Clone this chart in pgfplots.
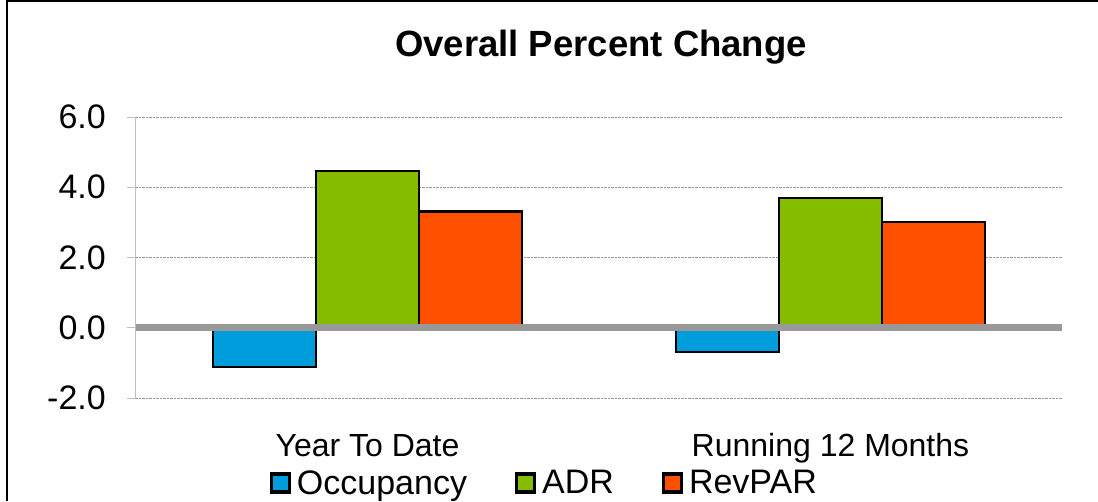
\documentclass[border=0pt]{standalone}
\usepackage{fontspec}
\setmainfont{Liberation Sans}
\usepackage{pgfplots}
\pgfplotsset{compat=1.18}
\definecolor{occ}{RGB}{0,157,220}
\definecolor{adr}{RGB}{133,188,0}
\definecolor{rev}{RGB}{255,80,0}
\definecolor{zeroc}{RGB}{153,153,153}
\definecolor{axc}{RGB}{191,191,191}
\definecolor{gridc}{RGB}{150,150,150}
\pgfplotsset{mylegend/.style={legend image code/.code={%
  \fill[black] (-1pt,-9.5pt) rectangle (18pt,9.5pt);
  \path[##1,draw=none] (1.2pt,-7.3pt) rectangle (15.8pt,7.3pt);
  \path[draw=none,fill=none] (0pt,0pt) -- (23pt,0pt);}}}
\pgfplotstableread{
x occ adr rev
0 -1.11 4.46 3.31
1 -0.68 3.69 3.00
}\datatable
\begin{document}
\begin{tikzpicture}
\path[use as bounding box] (0,0) rectangle (1098pt,501pt);
\draw[line width=2pt] (7pt,0pt) -- (7pt,500pt) -- (1098pt,500pt);
\begin{axis}[
  at={(136pt,103pt)}, anchor=south west,
  width=926pt, height=281pt, scale only axis,
  ybar=0pt, bar width=103pt,
  xmin=-0.5, xmax=1.5, ymin=-2, ymax=6,
  axis lines*=left,
  axis line style={-},
  x axis line style={draw=none},
  y axis line style={draw=axc, line width=1pt},
  xtick={0,1}, xticklabels={Year To Date,Running 12 Months},
  x tick style={draw=none},
  xticklabel style={anchor=base, yshift=-49pt, font=\fontsize{32}{38}\selectfont},
  ytick={-2,0,2,4,6},
  ytick pos=left,
  tick align=outside,
  major tick length=9pt,
  y tick style={draw=axc, line width=1pt},
  yticklabel={\pgfmathprintnumber[fixed,fixed zerofill,precision=1,assume math mode=true]{\tick}},
  yticklabel style={anchor=east, inner sep=0pt, xshift=-21pt, font=\fontsize{34}{40}\selectfont},
  ymajorgrids,
  major grid style={densely dotted, draw=gridc, line width=0.8pt},
  legend columns=3,
  legend style={draw=none, fill=none, at={(0.441,-0.3025)}, anchor=center,
    font=\fontsize{34}{40}\selectfont,
    /tikz/every even column/.append style={column sep=46pt}},
]
\addplot[fill=occ, draw=black, line width=2.2pt, mylegend] table[x=x,y=occ]{\datatable};
\addlegendentry{Occupancy}
\addplot[fill=adr, draw=black, line width=2.2pt, mylegend] table[x=x,y=adr]{\datatable};
\addlegendentry{ADR}
\addplot[fill=rev, draw=black, line width=2.2pt, mylegend] table[x=x,y=rev]{\datatable};
\addlegendentry{RevPAR}
\draw[zeroc, line width=7pt] (axis cs:-0.5,0) -- (axis cs:1.5,0);
\end{axis}
\node[anchor=base, font=\fontsize{36.5}{44}\selectfont\bfseries] at (601pt,444pt) {Overall Percent Change};
\end{tikzpicture}
\end{document}
